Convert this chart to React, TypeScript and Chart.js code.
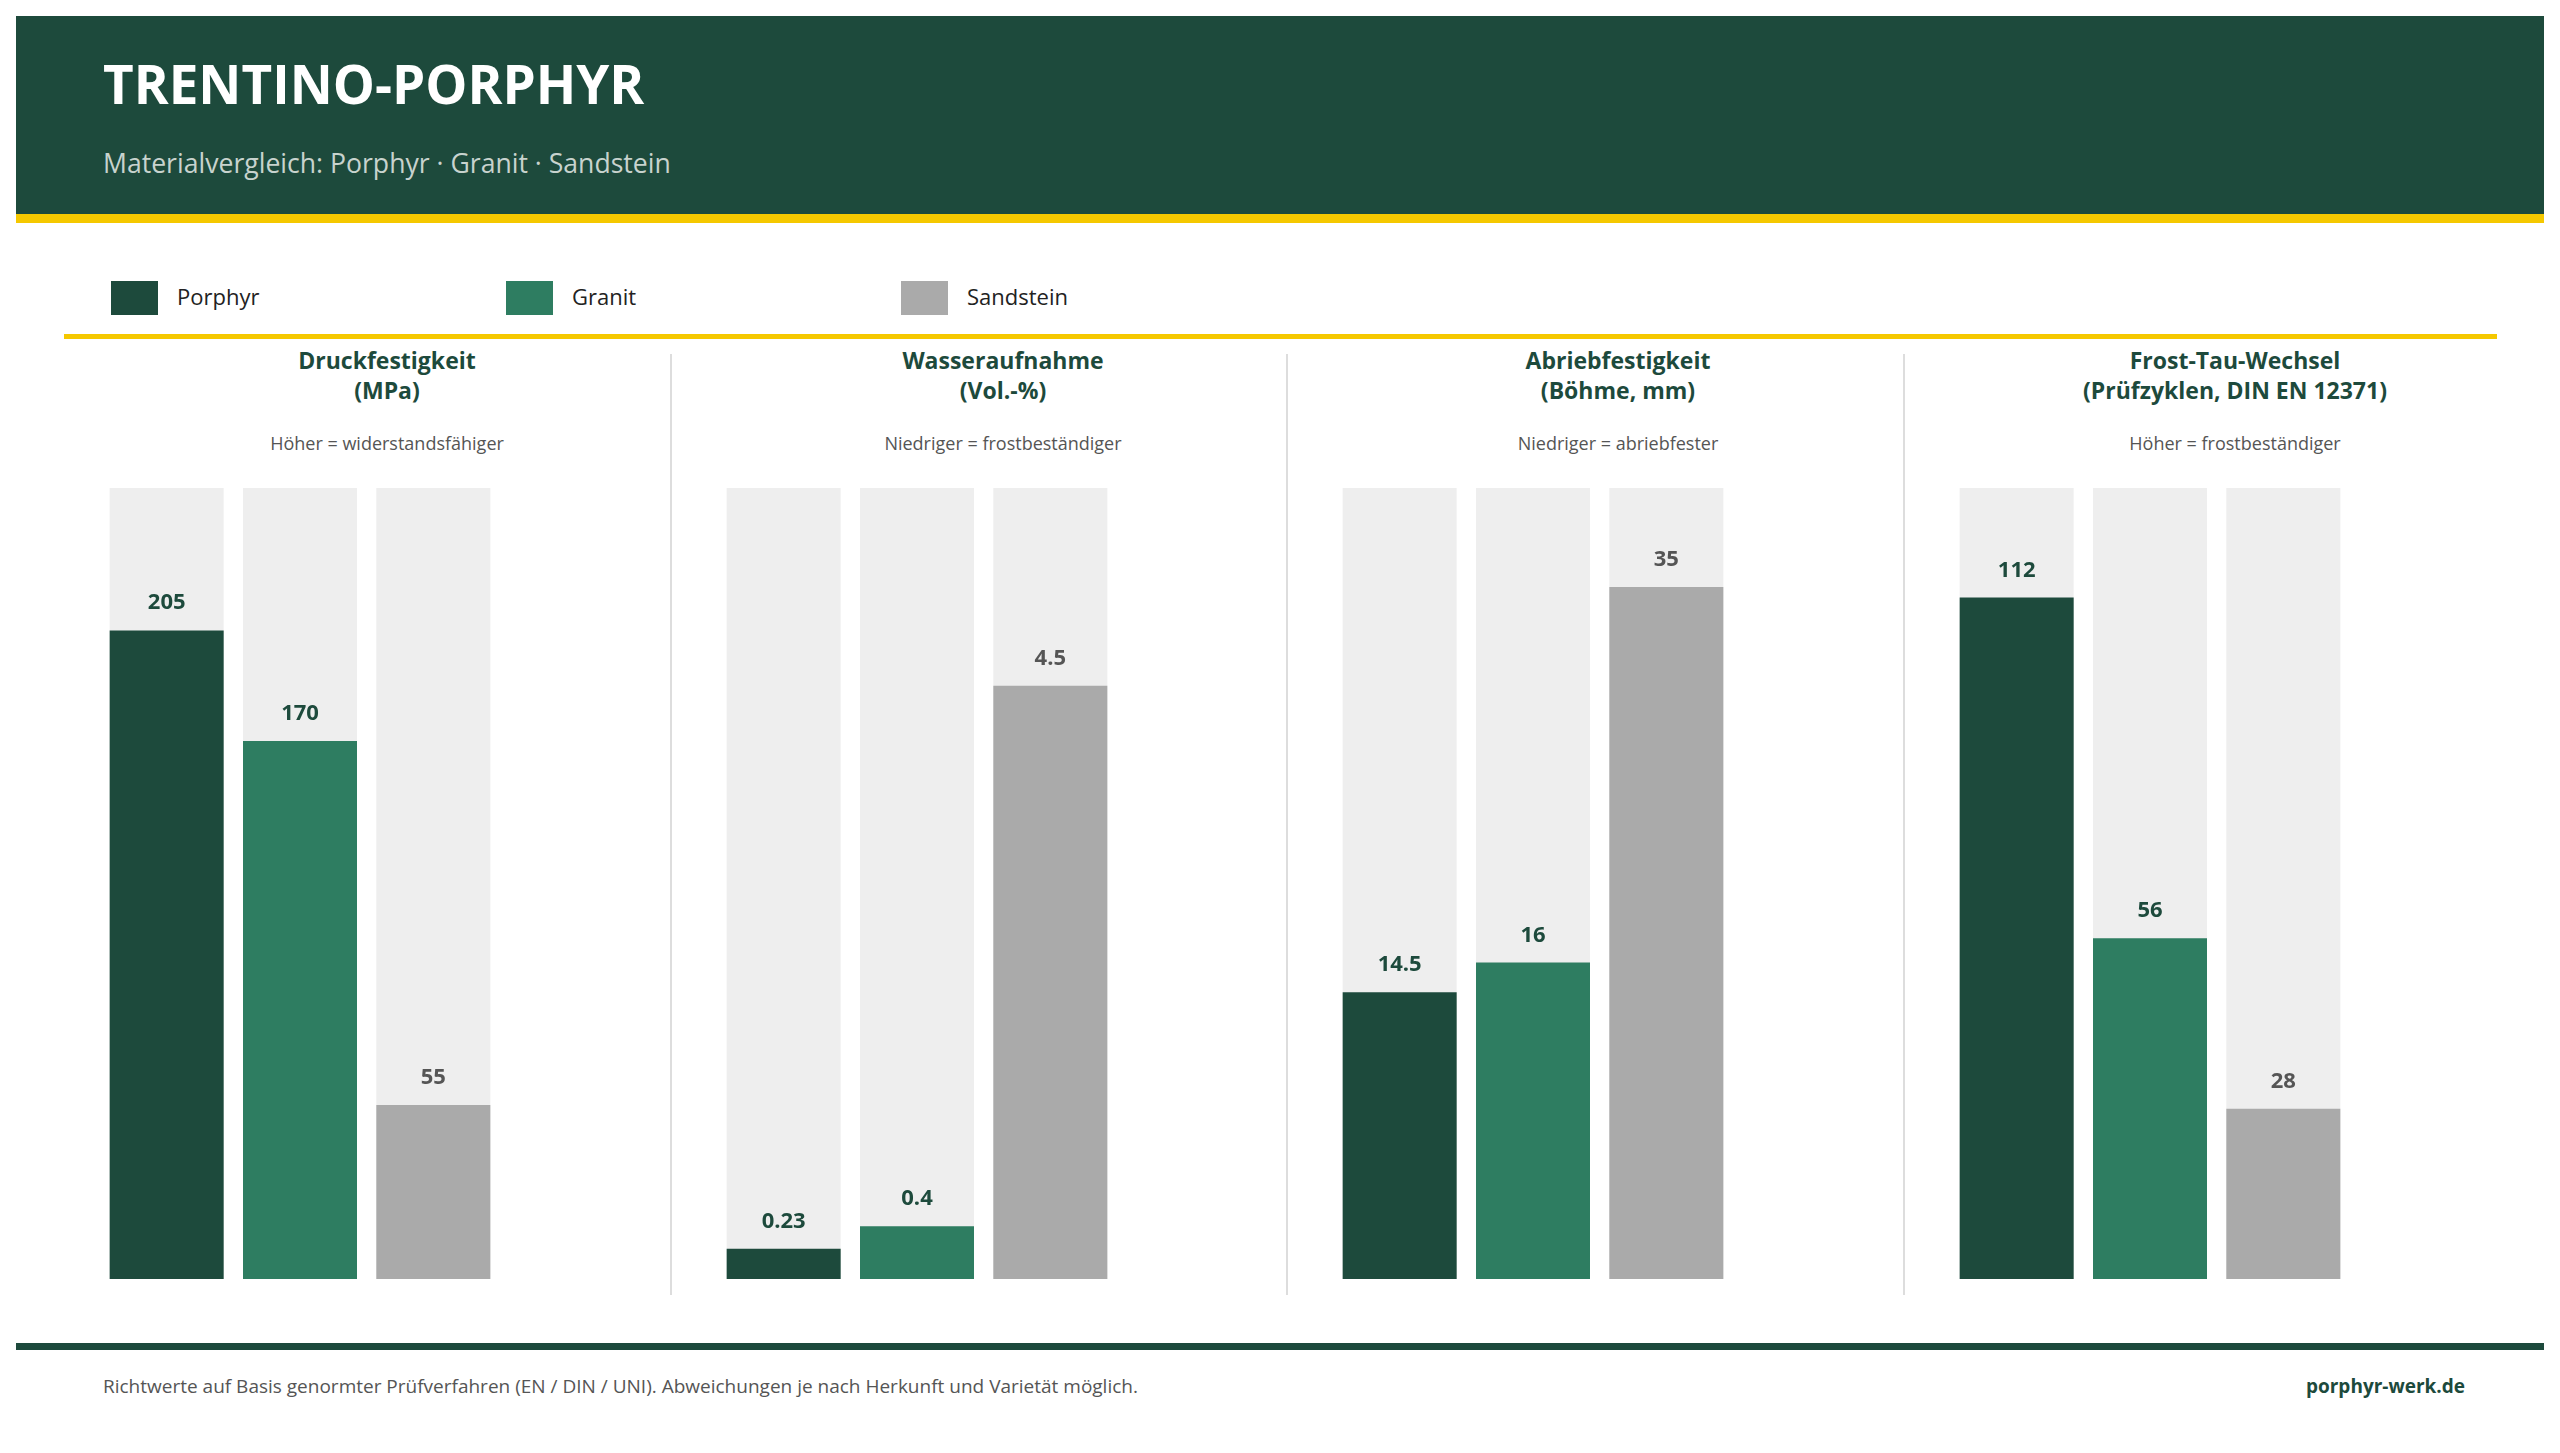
import React, { useEffect, useRef } from "react";
import { Chart, registerables } from "chart.js";

Chart.register(...registerables);

// Materials compared in every panel
const materials = ["Porphyr", "Granit", "Sandstein"];

// Measured values per property (Porphyr, Granit, Sandstein)
const druckfestigkeit = [205, 170, 55];
const wasseraufnahme = [0.23, 0.4, 4.5];
const abriebfestigkeit = [14.5, 16, 35];
const frostTauWechsel = [112, 56, 28];

// Upper end of each panel's value axis (full track height)
const axisMax = [250, 6, 40, 130];

const panelTitles = [
  ["Druckfestigkeit", "(MPa)"],
  ["Wasseraufnahme", "(Vol.-%)"],
  ["Abriebfestigkeit", "(Böhme, mm)"],
  ["Frost-Tau-Wechsel", "(Prüfzyklen, DIN EN 12371)"],
];
const panelNotes = [
  "Höher = widerstandsfähiger",
  "Niedriger = frostbeständiger",
  "Niedriger = abriebfester",
  "Höher = frostbeständiger",
];
const panelValues = [druckfestigkeit, wasseraufnahme, abriebfestigkeit, frostTauWechsel];

const DARK = "#1d4a3c";
const GREEN = "#2e7d61";
const GREY = "#aaaaaa";
const TRACK = "#eeeeee";
const YELLOW = "#f5c800";
const FONT = "'Open Sans', 'Noto Sans', sans-serif";

const barColors = [DARK, GREEN, GREY];
const labelColors = [DARK, DARK, "#555555"];

// Panel geometry
const chartLefts = [100, 717, 1333, 1950];
const panelCenters = [387, 1003, 1618, 2235];
const dividerXs = [671, 1287, 1904];
const CHART_TOP = 488;
const CHART_W = 400;
const CHART_H = 791;

const valueLabels = {
  id: "valueLabels",
  afterDatasetsDraw(chart: any) {
    const { ctx } = chart;
    const meta = chart.getDatasetMeta(0);
    const data = chart.data.datasets[0].data as number[];
    ctx.save();
    ctx.font = `700 22px ${FONT}`;
    ctx.textAlign = "center";
    ctx.textBaseline = "alphabetic";
    meta.data.forEach((bar: any, i: number) => {
      ctx.fillStyle = labelColors[i];
      ctx.fillText(String(data[i]), bar.x, bar.y - 21);
    });
    ctx.restore();
  },
};

function PanelChart({ index }: { index: number }) {
  const ref = useRef<HTMLCanvasElement | null>(null);
  useEffect(() => {
    if (!ref.current) return;
    const max = axisMax[index];
    const chart = new Chart(ref.current, {
      type: "bar",
      data: {
        labels: materials,
        datasets: [
          {
            data: panelValues[index],
            backgroundColor: barColors,
            grouped: false,
            borderWidth: 0,
            categoryPercentage: 1,
            barPercentage: 0.855,
          } as any,
          {
            data: materials.map(() => max),
            backgroundColor: TRACK,
            grouped: false,
            borderWidth: 0,
            categoryPercentage: 1,
            barPercentage: 0.855,
          } as any,
        ],
      },
      options: {
        responsive: false,
        animation: false,
        layout: { padding: 0 },
        plugins: { legend: { display: false }, tooltip: { enabled: false } },
        scales: {
          x: { display: false },
          y: { display: false, min: 0, max },
        },
      },
      plugins: [valueLabels],
    });
    return () => chart.destroy();
  }, [index]);
  return (
    <canvas
      ref={ref}
      width={CHART_W}
      height={CHART_H}
      style={{ position: "absolute", left: chartLefts[index], top: CHART_TOP, width: CHART_W, height: CHART_H }}
    />
  );
}

const abs = (s: React.CSSProperties): React.CSSProperties => ({ position: "absolute", margin: 0, ...s });

export default function App() {
  return (
    <div style={abs({ left: 0, top: 0, width: 2560, height: 1453, background: "#ffffff", fontFamily: FONT, overflow: "hidden" })}>
      {/* Header */}
      <div style={abs({ left: 16, top: 16, width: 2528, height: 198, background: DARK })} />
      <div style={abs({ left: 16, top: 214, width: 2528, height: 9, background: YELLOW })} />
      <div style={abs({ left: 103, top: 57, fontSize: 53, lineHeight: "53px", fontWeight: 700, color: "#ffffff", whiteSpace: "nowrap" })}>
        TRENTINO-PORPHYR
      </div>
      <div style={abs({ left: 103, top: 149.5, fontSize: 26.6, lineHeight: "26.6px", color: "#c8d3ce", whiteSpace: "nowrap" })}>
        Materialvergleich: Porphyr · Granit · Sandstein
      </div>

      {/* Legend */}
      {materials.map((m, i) => (
        <React.Fragment key={m}>
          <div style={abs({ left: 111 + i * 395, top: 281, width: 47, height: 34, background: barColors[i] })} />
          <div style={abs({ left: 177 + i * 395, top: 284.5, fontSize: 22, lineHeight: "22px", color: "#222222", whiteSpace: "nowrap" })}>
            {m}
          </div>
        </React.Fragment>
      ))}
      <div style={abs({ left: 64, top: 334, width: 2433, height: 5, background: YELLOW })} />

      {/* Panel dividers */}
      {dividerXs.map((x) => (
        <div key={x} style={abs({ left: x - 1, top: 354, width: 2, height: 941, background: "#dddddd" })} />
      ))}

      {/* Panel headings */}
      {panelTitles.map((t, i) => (
        <React.Fragment key={t[0]}>
          <div
            style={abs({
              left: panelCenters[i] - 300,
              width: 600,
              top: 344.5,
              textAlign: "center",
              fontSize: 23,
              lineHeight: "30px",
              fontWeight: 700,
              color: DARK,
            })}
          >
            {t[0]}
            <br />
            {t[1]}
          </div>
          <div
            style={abs({
              left: panelCenters[i] - 300,
              width: 600,
              top: 434,
              textAlign: "center",
              fontSize: 18,
              lineHeight: "18px",
              color: "#555555",
            })}
          >
            {panelNotes[i]}
          </div>
        </React.Fragment>
      ))}

      {/* Bar charts */}
      {panelValues.map((_, i) => (
        <PanelChart key={i} index={i} />
      ))}

      {/* Footer */}
      <div style={abs({ left: 16, top: 1343, width: 2528, height: 7, background: DARK })} />
      <div style={abs({ left: 103, top: 1376.5, fontSize: 19, lineHeight: "19px", color: "#555555", whiteSpace: "nowrap" })}>
        Richtwerte auf Basis genormter Prüfverfahren (EN / DIN / UNI). Abweichungen je nach Herkunft und Varietät möglich.
      </div>
      <div style={abs({ right: 2560 - 2465, top: 1376.5, fontSize: 19, lineHeight: "19px", fontWeight: 700, color: DARK, whiteSpace: "nowrap" })}>
        porphyr-werk.de
      </div>
    </div>
  );
}
